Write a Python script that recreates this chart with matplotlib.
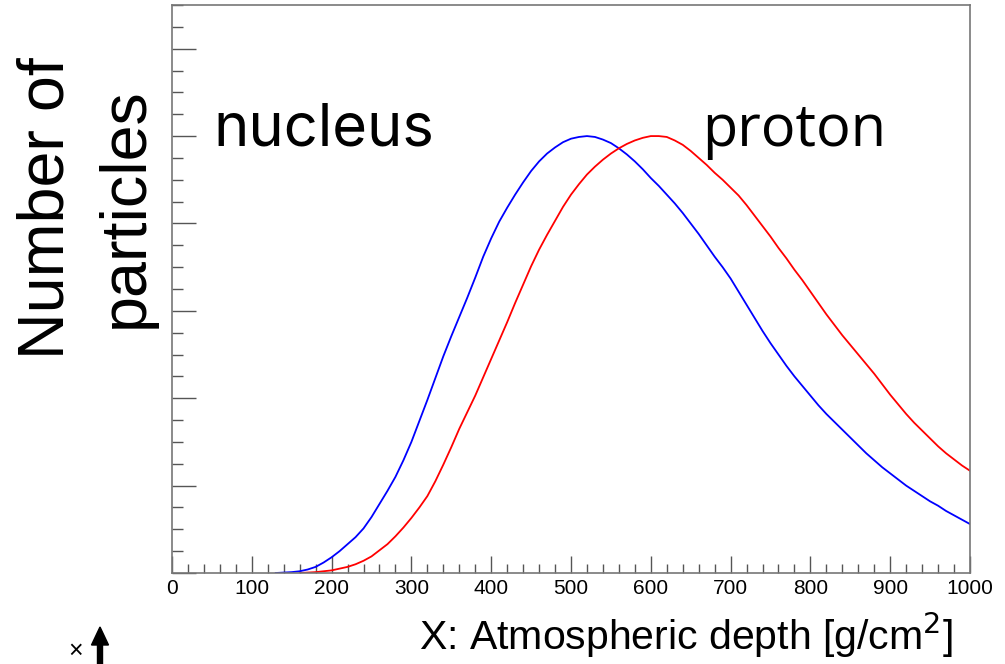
import matplotlib
matplotlib.use("Agg")
import matplotlib.pyplot as plt
from matplotlib.ticker import MultipleLocator
from matplotlib.patches import FancyArrow

# Nucleus (blue) shower profile, read every 10 g/cm^2
nucleus_x = list(range(130, 1001, 10))
nucleus_y = [0.00, 0.005, 0.01, 0.02, 0.04, 0.07, 0.12, 0.18, 0.25, 0.33,
             0.41, 0.51, 0.64, 0.79, 0.94, 1.10, 1.29, 1.50, 1.74, 1.98,
             2.23, 2.48, 2.71, 2.93, 3.15, 3.38, 3.62, 3.83, 4.02, 4.18,
             4.33, 4.47, 4.60, 4.71, 4.80, 4.87, 4.93, 4.97, 4.99, 5.00,
             4.99, 4.96, 4.92, 4.86, 4.79, 4.71, 4.62, 4.52, 4.43, 4.33,
             4.23, 4.12, 4.00, 3.88, 3.75, 3.62, 3.50, 3.37, 3.22, 3.07,
             2.92, 2.77, 2.63, 2.50, 2.37, 2.25, 2.14, 2.03, 1.92, 1.82,
             1.73, 1.64, 1.55, 1.46, 1.37, 1.29, 1.21, 1.14, 1.07, 1.00,
             0.94, 0.88, 0.82, 0.77, 0.71, 0.66, 0.61, 0.56]

# Proton (red) shower profile, read every 10 g/cm^2
proton_x = list(range(160, 1001, 10))
proton_y = [0.00, 0.005, 0.01, 0.02, 0.03, 0.05, 0.07, 0.10, 0.14, 0.19,
            0.26, 0.33, 0.42, 0.52, 0.63, 0.75, 0.88, 1.05, 1.24, 1.44,
            1.65, 1.84, 2.03, 2.24, 2.45, 2.66, 2.87, 3.09, 3.30, 3.51,
            3.70, 3.87, 4.03, 4.19, 4.33, 4.45, 4.56, 4.65, 4.73, 4.80,
            4.86, 4.91, 4.95, 4.98, 5.00, 5.00, 4.99, 4.95, 4.90, 4.83,
            4.75, 4.67, 4.58, 4.50, 4.41, 4.32, 4.21, 4.09, 3.97, 3.85,
            3.72, 3.60, 3.47, 3.35, 3.22, 3.09, 2.96, 2.84, 2.72, 2.61,
            2.50, 2.39, 2.28, 2.16, 2.04, 1.93, 1.82, 1.72, 1.63, 1.54,
            1.45, 1.37, 1.30, 1.23, 1.17]

x_ticks = [0, 100, 200, 300, 400, 500, 600, 700, 800, 900, 1000]

fig = plt.figure(figsize=(10.05, 6.64), dpi=100)
ax = fig.add_axes([172/1005, 1 - 573/664, (970-172)/1005, (573-5)/664])

ax.plot(nucleus_x, nucleus_y, color="#0000ff", lw=1.3)
ax.plot(proton_x, proton_y, color="#ff0000", lw=1.3)

ax.set_xlim(0, 1000)
ax.set_ylim(0, 6.5)
ax.set_xticks(x_ticks)
ax.set_xticklabels([str(t) for t in x_ticks], fontfamily="Liberation Sans", fontsize=15)
ax.xaxis.set_minor_locator(MultipleLocator(20))
ax.yaxis.set_major_locator(MultipleLocator(1))
ax.yaxis.set_minor_locator(MultipleLocator(0.25))
ax.set_yticklabels([])

tc = "#555555"
ax.tick_params(axis="x", which="major", direction="in", length=12, width=1, color=tc, pad=4)
ax.tick_params(axis="x", which="minor", direction="in", length=6.5, width=1, color=tc)
ax.tick_params(axis="y", which="major", direction="in", length=17, width=1, color=tc, labelleft=False)
ax.tick_params(axis="y", which="minor", direction="in", length=8, width=1, color=tc)
for s in ax.spines.values():
    s.set_color("#777777")
    s.set_linewidth(1.2)

fig.text(213/1005, 1 - 146/664, "nucleus", fontfamily="Inter", fontsize=43,
         ha="left", va="baseline")
fig.text(702/1005, 1 - 146/664, "proton", fontfamily="Open Sans", fontsize=41.5,
         ha="left", va="baseline")

fig.text(953/1005, 1 - 650/664, "X: Atmospheric depth [g/cm$^2$]",
         fontfamily="Liberation Sans", fontsize=29.5, ha="right", va="baseline")

fig.text(86/1005, 1 - 208/664, "Number of\nparticles", fontfamily="Liberation Sans",
         fontsize=46.5, rotation=90, ha="center", va="center", multialignment="center",
         linespacing=1.4)

# cut-off exponent marker at bottom-left
fig.text(76/1005, 0.001, "\u00d7", fontfamily="Liberation Sans", fontsize=18,
         ha="center", va="bottom")
fig.patches.append(FancyArrow(
    100/1005, -0.01, 0, (664-627)/664 + 0.01, width=5/1005,
    head_width=17/1005, head_length=18/664, length_includes_head=True,
    color="black", transform=fig.transFigure, figure=fig))

fig.savefig("out.png", dpi=100)
